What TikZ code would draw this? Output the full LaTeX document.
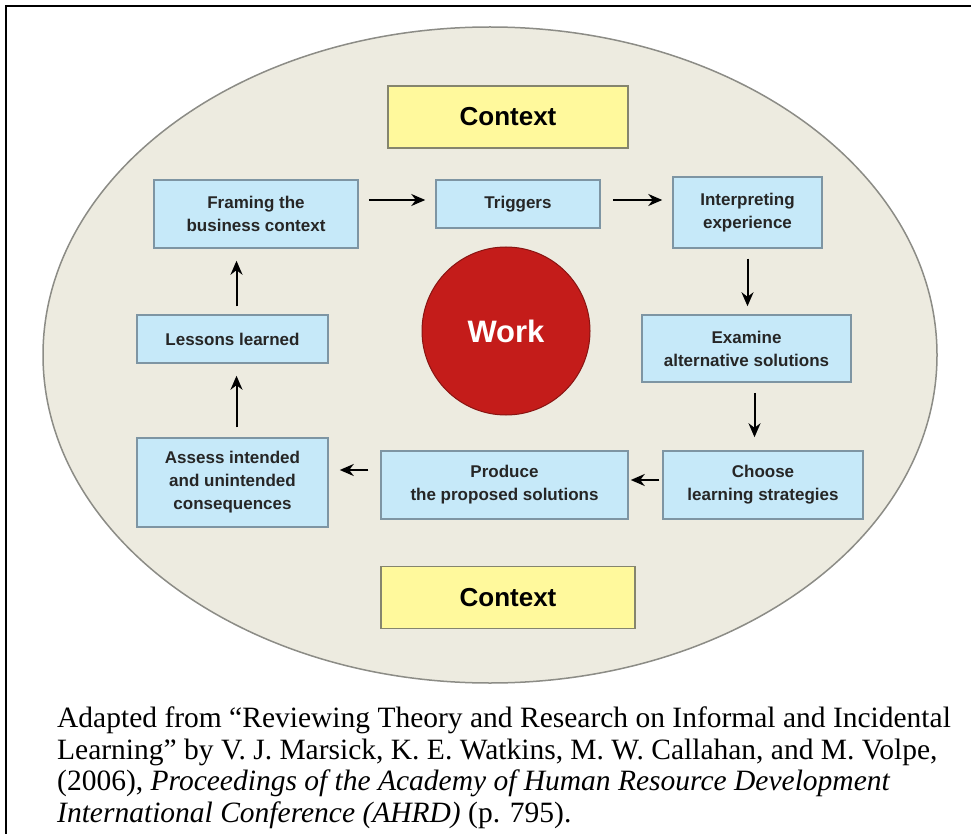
\documentclass[tikz,border=0pt]{standalone}
\usepackage{fontspec}
\setmainfont{Liberation Serif}
\setsansfont{Liberation Sans}
\usepackage{xcolor}
\usetikzlibrary{arrows.meta,calc}

\definecolor{ovalfill}{HTML}{EDEBE0}
\definecolor{ovaldraw}{HTML}{8C8C86}
\definecolor{stepfill}{HTML}{C6E9F9}
\definecolor{stepdraw}{HTML}{7E95A3}
\definecolor{ctxfill}{HTML}{FFF99C}
\definecolor{ctxdraw}{HTML}{85856E}
\definecolor{workred}{HTML}{C41C1A}

\begin{document}
\begin{tikzpicture}[x=1pt, y=-1pt, >=Stealth,
    stepbox/.style={draw=stepdraw, line width=1.5pt, fill=stepfill, inner sep=0pt, align=center,
        text=black!85, font=\sffamily\bfseries\fontsize{17}{23}\selectfont},
    ctxbox/.style={draw=ctxdraw, line width=1.5pt, fill=ctxfill, inner sep=0pt,
        minimum height=62pt, font=\sffamily\bfseries\fontsize{26}{30}\selectfont},
    flow/.style={->, line width=2pt, shorten >=10pt, shorten <=10pt,
        arrows={-Stealth[length=14pt,width=12pt]}}]
    \useasboundingbox (0,0) rectangle (971,834);

    \coordinate (C1) at (256,214);
    \coordinate (C2) at (518,204);
    \coordinate (C3) at (747.5,212.5);
    \coordinate (C4) at (746.5,348.5);
    \coordinate (C5) at (763,485);
    \coordinate (C6) at (504.5,485);
    \coordinate (C7) at (232.5,482.5);
    \coordinate (C8) at (232.5,339);

    % frame and oval
    \draw[line width=2.2pt] (6,834) -- (6,6) -- (971,6);
    \draw[draw=ovaldraw, line width=1.5pt, fill=ovalfill] (490,355) ellipse [x radius=447pt, y radius=328pt];

    \node (ctxtop) at (508,117) [ctxbox, minimum width=240pt]{Context};
    \node (ctxbot) at (508,597.5) [ctxbox, minimum width=254pt]{Context};

    \node (work) at (506,331) [circle, draw=workred!70!black, line width=1pt, fill=workred, minimum size=168pt,
        text=white, font=\sffamily\bfseries\fontsize{31}{36}\selectfont]{Work};

    \node (framing) at (C1) [stepbox, minimum width=204pt, minimum height=68pt]{Framing the\\business context};
    \node (trig) at (C2) [stepbox, minimum width=164pt, minimum height=48pt]{Triggers};
    \node (interp) at (C3) [stepbox, minimum width=149pt, minimum height=71pt]{Interpreting\\experience};
    \node (examine) at (C4) [stepbox, minimum width=209pt, minimum height=67pt]{Examine\\alternative solutions};
    \node (choose) at (C5) [stepbox, minimum width=200pt, minimum height=68pt]{Choose\\learning strategies};
    \node (produce) at (C6) [stepbox, minimum width=247pt, minimum height=68pt]{Produce\\the proposed solutions};
    \node (assess) at (C7) [stepbox, minimum width=191pt, minimum height=89pt]{Assess intended\\and unintended\\consequences};
    \node (lessons) at (C8) [stepbox, minimum width=191pt, minimum height=48pt]{Lessons learned};

    \draw[flow] ([yshift=4pt]trig.west -| framing.east) -- ([yshift=4pt]trig.west);
    \draw[flow, shorten <=12pt] ([yshift=4pt]trig.east) -- ([yshift=4pt]trig.east -| interp.west);
    \draw[flow, shorten >=8pt] (interp.south) -- (interp.south |- examine.north);
    \draw[flow, shorten >=13pt] ([xshift=8pt]examine.south) -- ([xshift=8pt]examine.south |- choose.north);
    \draw[flow, shorten <=3pt, shorten >=2pt] ([yshift=5pt]choose.west) -- ([yshift=5pt]choose.west -| produce.east);
    \draw[flow, shorten <=12pt, shorten >=11pt] ([yshift=15pt]produce.west) -- ([yshift=15pt]produce.west -| assess.east);
    \draw[flow, shorten >=12pt] ([xshift=4pt]assess.north) -- ([xshift=4pt]assess.north |- lessons.south);
    \draw[flow, shorten <=8pt, shorten >=12pt] ([xshift=4pt]lessons.north) -- ([xshift=4pt]lessons.north |- framing.south);

    \node (source) at (57,707) [anchor=north west, inner sep=0pt, align=left,
        font=\fontsize{29.5}{31.5}\selectfont]{Adapted from “Reviewing Theory and Research on Informal and Incidental\\
        Learning” by V. J. Marsick, K. E. Watkins, M. W. Callahan, and M. Volpe,\\
        (2006), \textit{Proceedings of the Academy of Human Resource Development}\\
        \textit{International Conference (AHRD)} (p. 795).};
\end{tikzpicture}
\end{document}
